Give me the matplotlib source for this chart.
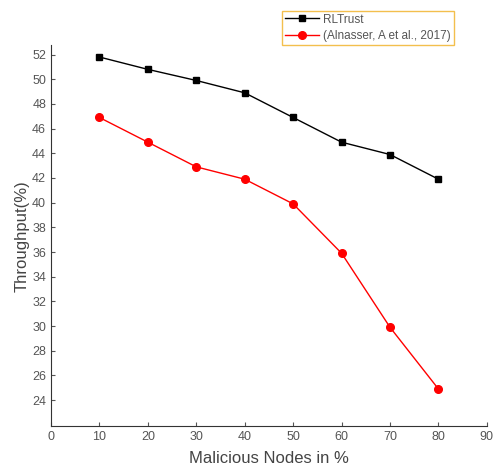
import matplotlib
matplotlib.use("Agg")
import matplotlib.pyplot as plt

plt.rcParams['font.family'] = ['Liberation Sans', 'DejaVu Sans']

nodes = [10, 20, 30, 40, 50, 60, 70, 80]
rltrust = [51.8, 50.8, 49.9, 48.9, 46.9, 44.9, 43.9, 41.9]
alnasser = [46.9, 44.9, 42.9, 41.9, 39.9, 35.9, 29.9, 24.9]

xticks = list(range(0, 91, 10))
yticks = list(range(24, 53, 2))

fig = plt.figure(figsize=(4.97, 4.70), dpi=100)
ax = fig.add_axes([0.1026, 0.0936, 0.877, 0.81])

l1, = ax.plot(nodes, rltrust, color='black', marker='s', markersize=5, linewidth=1, label='RLTrust')
l2, = ax.plot(nodes, alnasser, color='red', marker='o', markersize=5.5, linewidth=1,
              label='(Alnasser, A et al., 2017)')

ax.set_xlim(0, 90)
ax.set_ylim(21.9, 52.75)
ax.set_xticks(xticks)
ax.set_yticks(yticks)
ax.tick_params(direction='in', length=3, labelsize=9, colors='#555555')
for s in ['top', 'right']:
    ax.spines[s].set_visible(False)
ax.spines['left'].set_color('#333333')
ax.spines['bottom'].set_color('#333333')

ax.set_xlabel('Malicious Nodes in %', fontsize=12, color='#444444', labelpad=6)
ax.set_ylabel('Throughput(%)', fontsize=12, color='#444444', labelpad=2)

leg = fig.legend(handles=[l1, l2], loc='upper left', bbox_to_anchor=(0.556, 0.99),
                 fontsize=8.5, frameon=True, fancybox=False, handlelength=2.9,
                 borderpad=0.25, labelspacing=0.35, handletextpad=0.3)
leg.get_frame().set_edgecolor('#f0b020')
leg.get_frame().set_linewidth(1)
for t in leg.get_texts():
    t.set_color('#555555')

fig.savefig('out.png', dpi=100)
